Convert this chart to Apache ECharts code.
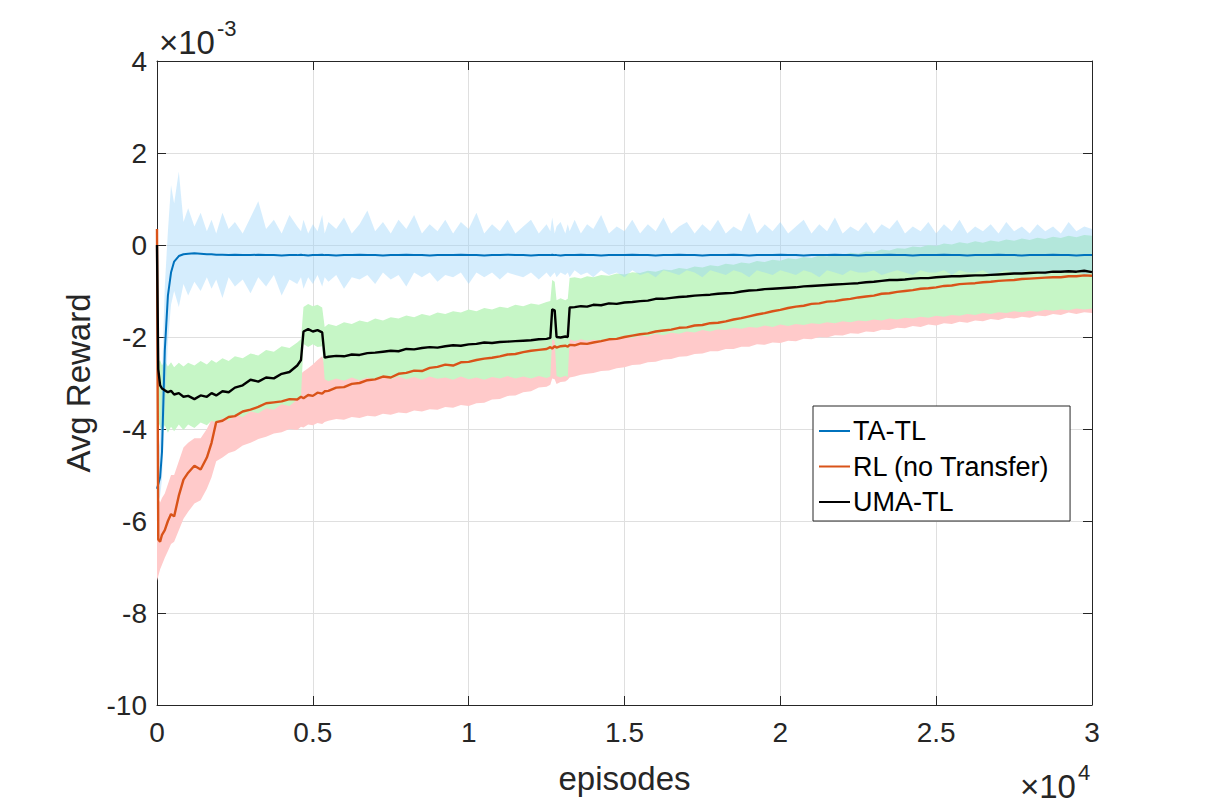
<!DOCTYPE html>
<html>
<head>
<meta charset="utf-8">
<title>Avg Reward vs episodes</title>
<script src="https://cdn.jsdelivr.net/npm/echarts@6/dist/echarts.min.js"></script>
<style>
  html, body { margin: 0; padding: 0; background: #fff; }
  #chart { width: 1208px; height: 807px; }
</style>
</head>
<body>
<div id="chart"></div>
<script>
// episodes (shared x grid for every curve and band)
const episodes = [
  0, 40, 100, 160, 250, 350, 450, 550, 700, 850,
  1000, 1200, 1400, 1600, 1750, 1900, 2100, 2300, 2500, 2750,
  3000, 3250, 3500, 3750, 4000, 4250, 4500, 4620, 4700, 4850,
  5000, 5150, 5300, 5380, 5500, 5750, 6000, 6250, 6500, 6750,
  7000, 7250, 7500, 7750, 8000, 8250, 8500, 8750, 9000, 9250,
  9500, 9750, 10000, 10250, 10500, 10750, 11000, 11250, 11500, 11750,
  12000, 12250, 12500, 12620, 12680, 12760, 12820, 12950, 13100, 13180,
  13240, 13400, 13600, 13800, 14000, 14250, 14500, 14750, 15000, 15250,
  15500, 15750, 16000, 16250, 16500, 16750, 17000, 17250, 17500, 17750,
  18000, 18250, 18500, 18750, 19000, 19250, 19500, 19750, 20000, 20250,
  20500, 20750, 21000, 21250, 21500, 21750, 22000, 22250, 22500, 22750,
  23000, 23250, 23500, 23750, 24000, 24250, 24500, 24750, 25000, 25250,
  25500, 25750, 26000, 26250, 26500, 26750, 27000, 27250, 27500, 27750,
  28000, 28250, 28500, 28750, 29000, 29250, 29500, 29750, 30000
];

// avg reward, in units of 1e-3
const taTL = [
  -5.3, -5.2, -5.05, -4.5, -2.3, -1.1, -0.6, -0.36, -0.24, -0.2,
  -0.19, -0.18, -0.19, -0.2, -0.2, -0.21, -0.21, -0.22, -0.21, -0.22,
  -0.22, -0.21, -0.22, -0.22, -0.23, -0.22, -0.22, -0.21, -0.22, -0.23,
  -0.22, -0.22, -0.21, -0.22, -0.22, -0.23, -0.22, -0.22, -0.21, -0.22,
  -0.22, -0.23, -0.22, -0.22, -0.21, -0.22, -0.22, -0.23, -0.22, -0.22,
  -0.22, -0.21, -0.22, -0.22, -0.23, -0.22, -0.22, -0.21, -0.22, -0.22,
  -0.23, -0.22, -0.22, -0.22, -0.21, -0.22, -0.22, -0.23, -0.22, -0.22,
  -0.22, -0.22, -0.21, -0.22, -0.22, -0.23, -0.22, -0.22, -0.22, -0.21,
  -0.22, -0.22, -0.23, -0.22, -0.22, -0.21, -0.22, -0.22, -0.23, -0.22,
  -0.22, -0.22, -0.21, -0.22, -0.23, -0.22, -0.22, -0.22, -0.21, -0.22,
  -0.22, -0.23, -0.22, -0.22, -0.22, -0.21, -0.22, -0.22, -0.23, -0.22,
  -0.22, -0.22, -0.21, -0.22, -0.22, -0.23, -0.22, -0.22, -0.22, -0.21,
  -0.22, -0.22, -0.23, -0.22, -0.22, -0.22, -0.21, -0.22, -0.22, -0.23,
  -0.22, -0.22, -0.22, -0.21, -0.22, -0.22, -0.23, -0.22, -0.22
];
const rlNoTransfer = [
  0.35, -6.4, -6.45, -6.3, -6.2, -6.0, -5.85, -5.9, -5.45, -5.1,
  -4.95, -4.8, -4.88, -4.62, -4.3, -3.85, -3.82, -3.74, -3.72, -3.62,
  -3.58, -3.52, -3.44, -3.42, -3.4, -3.35, -3.36, -3.3, -3.33, -3.26,
  -3.28, -3.21, -3.23, -3.18, -3.17, -3.1, -3.09, -3.02, -3.0, -2.94,
  -2.92, -2.86, -2.88, -2.8, -2.78, -2.73, -2.74, -2.67, -2.65, -2.6,
  -2.62, -2.55, -2.54, -2.5, -2.47, -2.45, -2.42, -2.38, -2.37, -2.33,
  -2.3, -2.28, -2.26, -2.22, -2.25, -2.2, -2.23, -2.2, -2.19, -2.21,
  -2.17, -2.18, -2.14, -2.15, -2.12, -2.09, -2.05, -2.04, -2.0, -1.97,
  -1.94, -1.92, -1.88, -1.86, -1.84, -1.8, -1.79, -1.75, -1.74, -1.7,
  -1.69, -1.66, -1.62, -1.59, -1.55, -1.51, -1.48, -1.44, -1.41, -1.37,
  -1.34, -1.32, -1.28, -1.27, -1.23, -1.22, -1.19, -1.17, -1.14, -1.12,
  -1.1, -1.06, -1.05, -1.02, -1.0, -0.98, -0.95, -0.94, -0.92, -0.89,
  -0.88, -0.85, -0.84, -0.83, -0.81, -0.8, -0.78, -0.77, -0.76, -0.74,
  -0.73, -0.72, -0.71, -0.7, -0.7, -0.68, -0.68, -0.66, -0.67
];
const umaTL = [
  0, -2.7, -3.05, -3.12, -3.16, -3.2, -3.17, -3.25, -3.22, -3.3,
  -3.28, -3.35, -3.27, -3.3, -3.22, -3.27, -3.18, -3.2, -3.1, -3.05,
  -2.93, -2.97, -2.88, -2.9, -2.8, -2.76, -2.62, -2.5, -1.88, -1.83,
  -1.88, -1.85, -1.9, -2.45, -2.43, -2.41, -2.42, -2.38, -2.39, -2.35,
  -2.34, -2.32, -2.3, -2.31, -2.26, -2.27, -2.24, -2.22, -2.23, -2.2,
  -2.18, -2.19, -2.16, -2.15, -2.12, -2.13, -2.11, -2.1, -2.09, -2.08,
  -2.07, -2.05, -2.04, -2.02, -1.4, -1.42, -2.0, -2.01, -1.99, -2.0,
  -1.36, -1.35, -1.33, -1.34, -1.3, -1.31, -1.27, -1.28, -1.25, -1.24,
  -1.22, -1.21, -1.17, -1.17, -1.15, -1.13, -1.12, -1.1, -1.09, -1.08,
  -1.06, -1.05, -1.04, -1.01, -0.99, -0.98, -0.96, -0.95, -0.94, -0.93,
  -0.92, -0.9, -0.89, -0.88, -0.87, -0.86, -0.85, -0.84, -0.83, -0.81,
  -0.8, -0.78, -0.76, -0.76, -0.75, -0.73, -0.72, -0.72, -0.7, -0.69,
  -0.68, -0.68, -0.67, -0.66, -0.66, -0.65, -0.64, -0.63, -0.62, -0.62,
  -0.61, -0.6, -0.6, -0.58, -0.58, -0.57, -0.58, -0.56, -0.59
];

// shaded spread around each curve (upper / lower edge, units of 1e-3)
const taHigh = [
  -4.8, -4.5, -4.2, -2.9, -0.9, 0.3, 1.3, 0.9, 1.6, 0.5,
  0.8, 0.4, 0.7, 0.3, 0.55, 0.25, 0.7, 0.35, 0.5, 0.25,
  0.6, 0.95, 0.35, 0.55, 0.25, 0.65, 0.4, 0.3, 0.55, 0.25,
  0.45, 0.3, 0.65, 0.25, 0.5, 0.35, 0.6, 0.25, 0.45, 0.75,
  0.3, 0.5, 0.25, 0.55, 0.35, 0.65, 0.25, 0.45, 0.3, 0.55,
  0.25, 0.5, 0.35, 0.7, 0.25, 0.45, 0.3, 0.55, 0.25, 0.4,
  0.55, 0.25, 0.45, 0.3, 0.6, 0.25, 0.4, 0.5, 0.25, 0.45,
  0.3, 0.55, 0.25, 0.45, 0.35, 0.65, 0.25, 0.4, 0.3, 0.55,
  0.25, 0.45, 0.3, 0.6, 0.25, 0.4, 0.5, 0.25, 0.45, 0.3,
  0.55, 0.25, 0.4, 0.3, 0.7, 0.25, 0.45, 0.3, 0.5, 0.25,
  0.4, 0.55, 0.25, 0.45, 0.3, 0.6, 0.25, 0.4, 0.3, 0.5,
  0.25, 0.45, 0.35, 0.55, 0.25, 0.4, 0.3, 0.5, 0.25, 0.45,
  0.3, 0.55, 0.25, 0.4, 0.3, 0.45, 0.25, 0.5, 0.3, 0.4,
  0.25, 0.45, 0.3, 0.4, 0.25, 0.5, 0.3, 0.4, 0.35
];
const taLow = [
  -5.8, -5.6, -5.45, -5.1, -3.6, -2.1, -1.3, -1.0, -1.35, -0.85,
  -1.1, -0.8, -1.0, -0.7, -0.95, -0.75, -1.15, -0.7, -0.9, -0.75,
  -1.05, -0.7, -0.9, -0.65, -1.1, -0.75, -0.85, -0.7, -0.95, -0.7,
  -0.85, -0.65, -0.9, -0.7, -0.8, -0.65, -0.95, -0.7, -0.75, -0.65,
  -0.85, -0.6, -0.75, -0.65, -0.9, -0.6, -0.7, -0.6, -0.8, -0.65,
  -0.7, -0.6, -0.85, -0.6, -0.7, -0.6, -0.75, -0.6, -0.65, -0.7,
  -0.6, -0.75, -0.6, -0.7, -0.65, -0.6, -0.7, -0.6, -0.65, -0.6,
  -0.7, -0.55, -0.65, -0.6, -0.7, -0.55, -0.65, -0.6, -0.7, -0.55,
  -0.65, -0.6, -0.7, -0.55, -0.6, -0.65, -0.55, -0.6, -0.7, -0.55,
  -0.6, -0.65, -0.55, -0.6, -0.7, -0.55, -0.6, -0.65, -0.55, -0.6,
  -0.65, -0.55, -0.6, -0.7, -0.55, -0.6, -0.65, -0.55, -0.6, -0.6,
  -0.55, -0.65, -0.6, -0.55, -0.6, -0.65, -0.55, -0.6, -0.6, -0.55,
  -0.65, -0.55, -0.6, -0.6, -0.55, -0.65, -0.6, -0.55, -0.6, -0.6,
  -0.55, -0.6, -0.65, -0.55, -0.6, -0.6, -0.55, -0.65, -0.6
];
const rlHigh = [
  -5.5, -5.5, -5.6, -5.5, -5.4, -5.2, -5.0, -5.0, -4.7, -4.4,
  -4.3, -4.2, -4.2, -4.0, -3.8, -3.35, -3.3, -3.25, -3.2, -3.1,
  -3.05, -3.0, -2.95, -2.9, -2.9, -2.85, -2.85, -2.8, -2.75, -2.68,
  -2.6, -2.5, -2.42, -2.6, -2.65, -2.6, -2.58, -2.52, -2.5, -2.44,
  -2.42, -2.36, -2.38, -2.3, -2.28, -2.23, -2.24, -2.17, -2.15, -2.1,
  -2.12, -2.05, -2.04, -2.0, -1.97, -1.95, -1.92, -1.88, -1.87, -1.83,
  -1.8, -1.78, -1.76, -1.72, -1.75, -1.7, -1.73, -1.7, -1.69, -1.71,
  -1.67, -1.68, -1.64, -1.65, -1.62, -1.59, -1.55, -1.54, -1.5, -1.47,
  -1.44, -1.42, -1.38, -1.36, -1.34, -1.3, -1.29, -1.25, -1.24, -1.2,
  -1.19, -1.16, -1.12, -1.09, -1.05, -1.01, -0.98, -0.94, -0.91, -0.87,
  -0.84, -0.82, -0.78, -0.77, -0.73, -0.72, -0.69, -0.67, -0.64, -0.62,
  -0.6, -0.56, -0.55, -0.52, -0.5, -0.48, -0.45, -0.44, -0.42, -0.39,
  -0.38, -0.35, -0.34, -0.33, -0.31, -0.3, -0.28, -0.27, -0.26, -0.24,
  -0.23, -0.22, -0.21, -0.2, -0.2, -0.18, -0.18, -0.16, -0.17
];
const rlLow = [
  -7.3, -7.2, -7.05, -6.95, -6.8, -6.65, -6.5, -6.45, -6.2, -5.95,
  -5.8, -5.62, -5.55, -5.3, -5.05, -4.7, -4.62, -4.52, -4.48, -4.36,
  -4.3, -4.22, -4.17, -4.1, -4.07, -4.0, -4.02, -3.95, -3.97, -3.9,
  -3.92, -3.87, -3.89, -3.85, -3.82, -3.78, -3.8, -3.74, -3.76, -3.71,
  -3.73, -3.67, -3.69, -3.64, -3.66, -3.6, -3.62, -3.57, -3.58, -3.52,
  -3.54, -3.48, -3.5, -3.44, -3.43, -3.36, -3.35, -3.28, -3.27, -3.2,
  -3.18, -3.1, -3.08, -3.04, -2.9, -2.92, -3.02, -2.98, -2.97, -2.93,
  -2.88, -2.86, -2.82, -2.8, -2.78, -2.74, -2.73, -2.68, -2.66, -2.61,
  -2.6, -2.55, -2.54, -2.49, -2.48, -2.43, -2.42, -2.37, -2.36, -2.31,
  -2.31, -2.26, -2.26, -2.21, -2.21, -2.16, -2.17, -2.12, -2.13, -2.08,
  -2.09, -2.04, -2.05, -2.0, -2.01, -1.96, -1.97, -1.92, -1.93, -1.88,
  -1.89, -1.84, -1.85, -1.8, -1.81, -1.76, -1.78, -1.73, -1.75, -1.7,
  -1.72, -1.67, -1.69, -1.64, -1.66, -1.61, -1.63, -1.58, -1.6, -1.56,
  -1.58, -1.53, -1.55, -1.5, -1.52, -1.47, -1.5, -1.46, -1.48
];
const umaHigh = [
  -2.45, -2.55, -2.5, -2.62, -2.52, -2.64, -2.55, -2.66, -2.56, -2.64,
  -2.56, -2.62, -2.52, -2.6, -2.5, -2.56, -2.46, -2.52, -2.42, -2.46,
  -2.36, -2.4, -2.28, -2.32, -2.2, -2.24, -2.12, -2.05, -1.35, -1.28,
  -1.33, -1.3, -1.36, -1.78, -1.72, -1.76, -1.68, -1.72, -1.64, -1.68,
  -1.6, -1.64, -1.57, -1.6, -1.53, -1.57, -1.5, -1.54, -1.47, -1.5,
  -1.44, -1.47, -1.4, -1.44, -1.37, -1.4, -1.34, -1.37, -1.3, -1.33,
  -1.27, -1.3, -1.24, -1.22, -0.76, -0.8, -1.2, -1.16, -1.2, -1.17,
  -0.72, -0.7, -0.73, -0.68, -0.7, -0.65, -0.67, -0.62, -0.64, -0.59,
  -0.61, -0.56, -0.58, -0.53, -0.55, -0.5, -0.52, -0.47, -0.49, -0.44,
  -0.46, -0.41, -0.43, -0.38, -0.4, -0.35, -0.37, -0.32, -0.34, -0.29,
  -0.31, -0.26, -0.28, -0.23, -0.25, -0.2, -0.22, -0.17, -0.19, -0.14,
  -0.15, -0.1, -0.12, -0.07, -0.08, -0.03, -0.05, 0.0, -0.02, 0.03,
  0.01, 0.06, 0.03, 0.08, 0.05, 0.1, 0.07, 0.12, 0.09, 0.14,
  0.11, 0.16, 0.13, 0.18, 0.15, 0.2, 0.17, 0.22, 0.2
];
const umaLow = [
  -3.75, -3.85, -3.95, -4.05, -3.92, -4.08, -3.95, -4.05, -3.9, -4.02,
  -3.9, -3.98, -3.86, -3.92, -3.82, -3.86, -3.76, -3.82, -3.7, -3.74,
  -3.62, -3.66, -3.55, -3.58, -3.46, -3.5, -3.36, -3.3, -2.15, -2.22,
  -2.16, -2.22, -2.2, -2.92, -2.96, -2.9, -2.95, -2.88, -2.94, -2.88,
  -2.93, -2.87, -2.92, -2.86, -2.92, -2.87, -2.93, -2.86, -2.91, -2.88,
  -2.93, -2.86, -2.92, -2.88, -2.93, -2.87, -2.9, -2.85, -2.9, -2.86,
  -2.9, -2.85, -2.89, -2.86, -2.05, -2.08, -2.85, -2.88, -2.84, -2.87,
  -2.05, -2.09, -2.05, -2.08, -2.06, -2.08, -2.03, -2.05, -2.0, -2.02,
  -1.97, -1.99, -1.93, -1.96, -1.91, -1.93, -1.88, -1.9, -1.85, -1.88,
  -1.83, -1.85, -1.8, -1.82, -1.78, -1.8, -1.75, -1.78, -1.73, -1.76,
  -1.72, -1.74, -1.7, -1.72, -1.68, -1.7, -1.66, -1.68, -1.64, -1.66,
  -1.62, -1.64, -1.6, -1.62, -1.58, -1.6, -1.56, -1.58, -1.54, -1.56,
  -1.52, -1.54, -1.5, -1.52, -1.48, -1.5, -1.46, -1.48, -1.44, -1.46,
  -1.43, -1.45, -1.41, -1.43, -1.4, -1.42, -1.38, -1.4, -1.38
];

const xTicks = [0, 5000, 10000, 15000, 20000, 25000, 30000];
const yTicks = [-10, -8, -6, -4, -2, 0, 2, 4];

const ink = '#262626';
const font = '"Liberation Sans", Arial, Helvetica, sans-serif';

function pairs(ys) {
    return episodes.map((x, i) => [x, ys[i]]);
}

// shaded band: one polygon, upper edge left->right then lower edge back
function band(name, lo, hi, color, z) {
    return {
        name: name,
        type: 'custom',
        silent: true,
        z: z,
        data: episodes.map((x, i) => [x, lo[i], hi[i]]),
        encode: { x: 0, y: [1, 2] },
        renderItem: function (params, api) {
            if (params.dataIndex !== 0) return null
            const pts = []
            for (let i = 0; i < episodes.length; i++) pts.push(api.coord([episodes[i], hi[i]]))
            for (let i = episodes.length - 1; i >= 0; i--) pts.push(api.coord([episodes[i], lo[i]]))
            return { type: 'polygon', shape: { points: pts }, style: { fill: color } }
        },
    }
}

function curve(name, ys, color, width, z) {
    return {
        name: name,
        type: 'line',
        data: pairs(ys),
        symbol: 'none',
        z: z,
        lineStyle: { color: color, width: width },
        itemStyle: { color: color },
    }
}

const chart = echarts.init(document.getElementById('chart'), null, { renderer: 'svg' })

const axisCommon = {
    type: 'value',
    axisLine: { show: true, onZero: false, lineStyle: { color: ink, width: 1 } },
    axisTick: { show: true, inside: true, length: 9, lineStyle: { color: ink } },
}

chart.setOption({
    animation: false,
    backgroundColor: '#fff',
    textStyle: { fontFamily: font },
    grid: { left: 157, right: 116, top: 61, bottom: 102, containLabel: false },
    legend: {
        data: ['TA-TL', 'RL (no Transfer)', 'UMA-TL'],
        icon: 'rect',
        orient: 'vertical',
        left: 813,
        top: 406,
        itemWidth: 31,
        itemHeight: 2,
        itemGap: 7.5,
        padding: [11, 20, 5, 6],
        borderColor: ink,
        borderWidth: 1,
        backgroundColor: '#fff',
        selectedMode: false,
        textStyle: { fontSize: 27, lineHeight: 28, color: '#000', fontFamily: font, padding: [0, 0, 0, -2] },
    },
    xAxis: [
        Object.assign({}, axisCommon, {
            position: 'bottom',
            min: 0, max: 30000, interval: 5000,
            axisLabel: {
                margin: 13, fontSize: 28, color: ink, fontFamily: font,
                formatter: v => xTicks.includes(v) ? String(v / 10000) : '',
            },
            splitLine: { show: true, lineStyle: { color: '#dfdfdf', width: 1 } },
            name: 'episodes',
            nameLocation: 'middle',
            nameGap: 57,
            nameTextStyle: { fontSize: 33, color: ink, fontFamily: font },
        }),
        Object.assign({}, axisCommon, {
            position: 'top',
            min: 0, max: 30000, interval: 5000,
            axisLabel: { show: false },
            splitLine: { show: false },
        }),
    ],
    yAxis: [
        Object.assign({}, axisCommon, {
            position: 'left',
            min: -10, max: 4, interval: 2,
            axisLabel: {
                margin: 10, fontSize: 28, color: ink, fontFamily: font,
                formatter: v => yTicks.includes(v) ? String(v) : '',
            },
            splitLine: { show: true, lineStyle: { color: '#dfdfdf', width: 1 } },
            name: 'Avg Reward',
            nameLocation: 'middle',
            nameGap: 62,
            nameRotate: 90,
            nameTextStyle: { fontSize: 33, color: ink, fontFamily: font },
        }),
        Object.assign({}, axisCommon, {
            position: 'right',
            min: -10, max: 4, interval: 2,
            axisLabel: { show: false },
            splitLine: { show: false },
        }),
    ],
    graphic: [
        { type: 'text', left: 159, top: 26, style: { text: '\u00d710', fontSize: 33, fontFamily: font, fill: ink } },
        { type: 'text', left: 217, top: 17, style: { text: '-3', fontSize: 22, fontFamily: font, fill: ink } },
        { type: 'text', left: 1020, top: 770, style: { text: '\u00d710', fontSize: 33, fontFamily: font, fill: ink } },
        { type: 'text', left: 1078, top: 761, style: { text: '4', fontSize: 22, fontFamily: font, fill: ink } },
    ],
    series: [
        band('rl band', rlLow, rlHigh, '#ffcaca', 2),
        band('uma band', umaLow, umaHigh, '#c6f6c6', 3),
        band('ta band', taLow, taHigh, 'rgba(150, 210, 250, 0.4)', 4),
        curve('TA-TL', taTL, '#0072BD', 2, 6),
        curve('RL (no Transfer)', rlNoTransfer, '#D95319', 2.4, 7),
        curve('UMA-TL', umaTL, '#000000', 2.4, 8),
    ],
})
</script>
</body>
</html>
